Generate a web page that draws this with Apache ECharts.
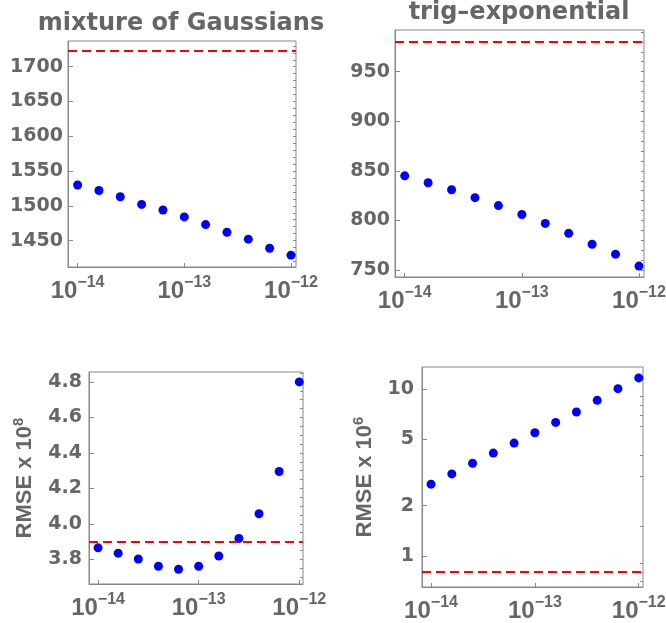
<!DOCTYPE html>
<html>
<head>
<meta charset="utf-8">
<title>mixture of Gaussians / trig-exponential</title>
<script src="https://cdn.jsdelivr.net/npm/echarts@6/dist/echarts.min.js"></script>
<style>
    html, body { margin: 0; padding: 0; background: #fff; }
    #chart { width: 666px; height: 623px; }
</style>
</head>
<body>
<div id="chart"></div>
<script>
// tolerance values (x), five per decade
var xValues = [1e-14, 1.585e-14, 2.512e-14, 3.981e-14, 6.310e-14, 1e-13, 1.585e-13, 2.512e-13, 3.981e-13, 6.310e-13, 1e-12];

// top row: criterion values
var mogScore = [1530, 1522, 1513, 1502, 1494, 1484, 1473, 1462, 1452, 1439, 1429];
var mogScoreRef = 1722.6;
var trigScore = [845, 838, 831, 823, 815, 806, 797, 787, 776, 766, 754];
var trigScoreRef = 980;

// bottom row: RMSE (scaled)
var mogRmse = [3.865, 3.835, 3.802, 3.761, 3.744, 3.761, 3.819, 3.918, 4.057, 4.295, 4.80];
var mogRmseRef = 3.896;
var trigRmse = [2.69, 3.10, 3.59, 4.13, 4.74, 5.47, 6.31, 7.28, 8.55, 10.05, 11.66];
var trigRmseRef = 0.795;

// tick labels
var mogScoreTicks = [1450, 1500, 1550, 1600, 1650, 1700];
var trigScoreTicks = [750, 800, 850, 900, 950];
var mogRmseTicks = [3.8, 4.0, 4.2, 4.4, 4.6, 4.8];
var trigRmseTicks = [1, 2, 5, 10];
var trigRmseMinor = [0.7, 0.8, 0.9, 1.5, 3, 4, 6, 7, 8, 9];

var titles = ['mixture of Gaussians', 'trig\u2013exponential'];

var GRAY = '#666';
var FRAME = '#888';
var FONT = 'DejaVu Sans';
var FONT2 = 'Liberation Sans';

// step ticks between min and max (only for minor tick marks)
function stepTicks(min, max, step) {
    var out = [];
    var v = Math.ceil(min / step) * step;
    while (v <= max) {
        out.push(Math.round(v * 1000) / 1000);
        v += step;
    }
    return out;
}

var panels = [
    {grid: {left: 68, top: 41, width: 228, height: 226}, x: [-14.09, -11.953], yType: 'value', y: [1412, 1737],
        ticks: mogScoreTicks, minor: stepTicks(1412, 1737, 10), data: mogScore, ref: mogScoreRef, margin: 5},
    {grid: {left: 395, top: 30, width: 249, height: 247}, x: [-14.083, -11.957], yType: 'value', y: [743, 992],
        ticks: trigScoreTicks, minor: stepTicks(743, 992, 10), data: trigScore, ref: trigScoreRef, margin: 5},
    {grid: {left: 89, top: 372, width: 214, height: 212}, x: [-14.09, -11.963], yType: 'value', y: [3.661, 4.856],
        ticks: mogRmseTicks, minor: stepTicks(3.661, 4.856, 0.05), data: mogRmse, ref: mogRmseRef, margin: 7,
        name: 'RMSE x 10{s|8}', nameGap: 50},
    {grid: {left: 422, top: 367, width: 221, height: 220}, x: [-14.087, -11.959], yType: 'log', y: [0.651, 13.55],
        ticks: trigRmseTicks, minor: trigRmseMinor, data: trigRmse, ref: trigRmseRef, margin: 8,
        name: 'RMSE x 10{s|6}', nameGap: 43}
];

var labelRich = {
    b: {fontSize: 24, fontWeight: 'bold', color: GRAY, fontFamily: FONT2, lineHeight: 32},
    s: {fontSize: 16, fontWeight: 'bold', color: GRAY, fontFamily: FONT2, verticalAlign: 'top'}
};

var option = {
    backgroundColor: '#fff',
    animation: false,
    grid: [],
    xAxis: [],
    yAxis: [],
    series: [],
    graphic: [
        {type: 'text', x: 181, y: 24, style: {text: titles[0], font: 'bold 24px "' + FONT + '"', fill: GRAY, align: 'center', verticalAlign: 'middle'}},
        {type: 'text', x: 519, y: 13, style: {text: titles[1], font: 'bold 24px "' + FONT + '"', fill: GRAY, align: 'center', verticalAlign: 'middle'}}
    ]
};

panels.forEach(function (p, i) {
    var g = p.grid;
    option.grid.push({
        left: g.left, top: g.top, width: g.width, height: g.height,
        show: true, borderColor: FRAME, borderWidth: 1, containLabel: false, outerBoundsMode: 'none'
    });
    option.xAxis.push({
        type: 'log', logBase: 10, gridIndex: i,
        min: Math.pow(10, p.x[0]), max: Math.pow(10, p.x[1]),
        axisLine: {show: true, lineStyle: {color: FRAME, width: 1}},
        axisTick: {show: true, inside: true, length: 4, lineStyle: {color: FRAME}},
        splitLine: {show: false},
        axisLabel: {
            margin: 8, showMinLabel: false, showMaxLabel: false,
            formatter: function (v) {
                var e = Math.round(Math.log(v) / Math.LN10);
                return '{b|10}{s|' + (e < 0 ? '\u2212' + (-e) : e) + '}';
            },
            rich: labelRich
        }
    });
    // main y axis with labels and major ticks
    option.yAxis.push({
        type: p.yType, gridIndex: i, min: p.y[0], max: p.y[1],
        name: p.name || '', nameLocation: 'middle', nameGap: p.nameGap || 0, nameRotate: 90,
        nameTextStyle: {
            fontSize: 22, fontWeight: 'bold', color: GRAY, fontFamily: FONT2, lineHeight: 28,
            rich: {s: {fontSize: 15, fontWeight: 'bold', color: GRAY, fontFamily: FONT2, verticalAlign: 'top'}}
        },
        axisLine: {show: true, lineStyle: {color: FRAME, width: 1}},
        axisTick: {show: true, inside: true, length: 5, customValues: p.ticks, lineStyle: {color: FRAME}},
        splitLine: {show: false},
        axisLabel: {
            margin: p.margin, customValues: p.ticks,
            fontSize: 19, fontWeight: 'bold', color: GRAY, fontFamily: FONT,
            formatter: function (v) {
                return i === 2 ? v.toFixed(1) : String(v);
            }
        }
    });
    // second y axis only for the minor tick marks
    option.yAxis.push({
        type: p.yType, gridIndex: i, min: p.y[0], max: p.y[1],
        axisLine: {show: false},
        axisTick: {show: true, inside: true, length: 3, customValues: p.minor, lineStyle: {color: FRAME}},
        axisLabel: {show: false},
        splitLine: {show: false}
    });
    var pts = xValues.map(function (x, k) { return [x, p.data[k]]; });
    option.series.push({
        type: 'scatter', xAxisIndex: i, yAxisIndex: i * 2,
        data: pts, symbolSize: 9, itemStyle: {color: '#0000ff', opacity: 1},
        markLine: {
            silent: true, symbol: ['none', 'none'], animation: false,
            label: {show: false},
            lineStyle: {color: '#ff0000', type: [9, 5], width: 1.8},
            data: [{yAxis: p.ref}]
        }
    });
});

var chart = echarts.init(document.getElementById('chart'), null, {renderer: 'canvas'});
chart.setOption(option);
</script>
</body>
</html>
